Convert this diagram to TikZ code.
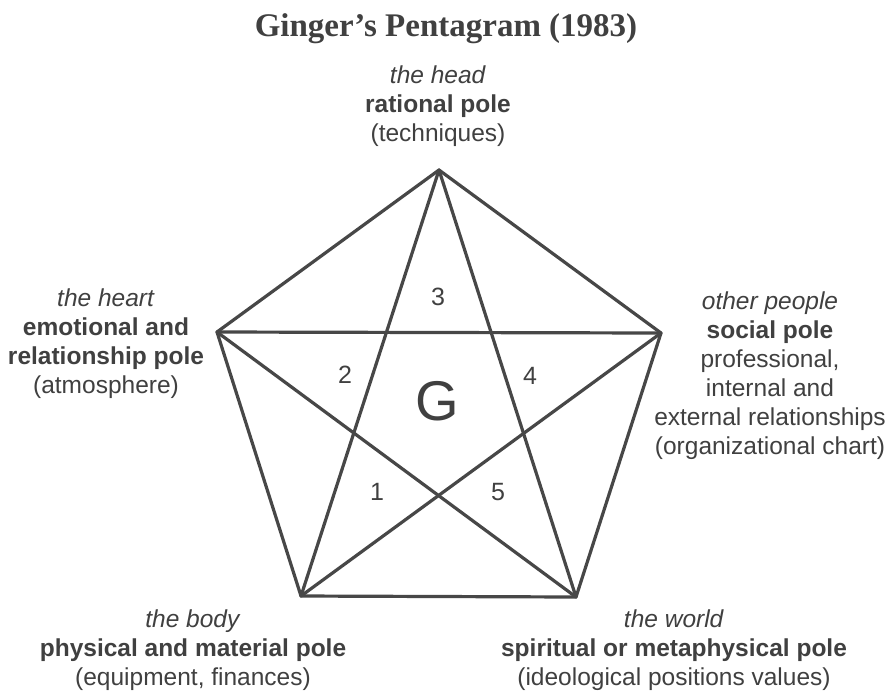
\documentclass[tikz,border=0pt]{standalone}
\usepackage{fontspec}
\setmainfont{Liberation Sans}
\newfontfamily\titlefont{Liberation Serif}
\definecolor{ink}{HTML}{474747}
\definecolor{txt}{HTML}{404040}
\begin{document}
\begin{tikzpicture}[x=1pt,y=-1pt,
  lab/.style={align=center, text=txt, inner sep=0pt, font=\fontsize{24.5}{29}\selectfont},
  num/.style={text=txt, inner sep=0pt, font=\fontsize{25}{28}\selectfont},
  edge/.style={draw=ink, line width=3.2pt, line join=round, line cap=round}]
\useasboundingbox (0,0) rectangle (890,697);
\fill[white] (0,0) rectangle (890,697);
\coordinate (T) at (439,170);
\coordinate (L) at (217,332);
\coordinate (R) at (661,333);
\coordinate (BL) at (301,596);
\coordinate (BR) at (576,597);
\draw[edge] (T) -- (R) -- (BR) -- (BL) -- (L) -- cycle;
\draw[edge] (T) -- (BL);
\draw[edge] (T) -- (BR);
\draw[edge] (L) -- (R);
\draw[edge] (L) -- (BR);
\draw[edge] (R) -- (BL);
\node[text=txt, inner sep=0pt, font=\titlefont\bfseries\fontsize{33}{36}\selectfont] (title) at (446,29) {Ginger’s Pentagram (1983)};
\node[lab] (head) at (438,106) {\textit{the head}\\\textbf{rational pole}\\(techniques)};
\node[lab] (heart) at (106,344) {\textit{the heart}\\\textbf{emotional and}\\\textbf{relationship pole}\\(atmosphere)};
\node[lab] (people) at (770,376) {\textit{other people}\\\textbf{social pole}\\professional,\\internal and\\external relationships\\(organizational chart)};
\node[lab] (body) at (193,650) {\textit{the body}\\\textbf{physical and material pole}\\(equipment, finances)};
\node[lab] (world) at (674,650) {\textit{the world}\\\textbf{spiritual or metaphysical pole}\\(ideological positions values)};
\node[num] (n3) at (438,297) {3};
\node[num] (n2) at (345,375) {2};
\node[num] (n4) at (530,376) {4};
\node[num] (n1) at (377,492) {1};
\node[num] (n5) at (498,492) {5};
\node[text=txt, inner sep=0pt, font=\fontsize{56}{60}\selectfont] (g) at (437,401) {G};
\end{tikzpicture}
\end{document}
